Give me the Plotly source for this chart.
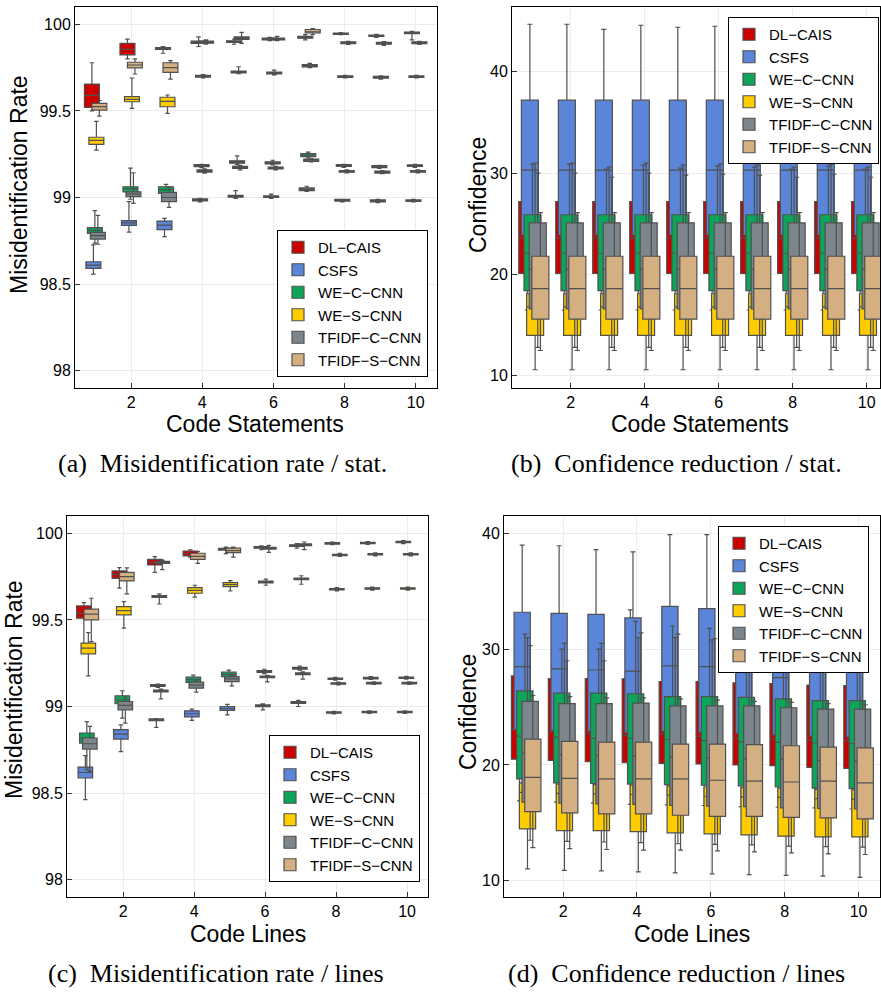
import plotly.graph_objects as go

X = [1, 2, 3, 4, 5, 6, 7, 8, 9, 10]
SERIES = ["DL\u2212CAIS", "CSFS", "WE\u2212C\u2212CNN", "WE\u2212S\u2212CNN", "TFIDF\u2212C\u2212CNN", "TFIDF\u2212S\u2212CNN"]
COLORS = ["#CD0000", "#5B85D8", "#0DA55A", "#FFCC00", "#7D868C", "#D4AF82"]

# ---------------- Panel (a): misidentification rate / statements ----------------
a_dl_lo  = [99.50, 99.80, 99.833, 99.872, 99.885, 99.905, 99.91, 99.94, 99.925, 99.91]
a_dl_q1  = [99.52, 99.823, 99.855, 99.89, 99.895, 99.91, 99.92, 99.942, 99.93, 99.946]
a_dl_med = [99.59, 99.855, 99.86, 99.897, 99.90, 99.915, 99.925, 99.946, 99.934, 99.951]
a_dl_q3  = [99.655, 99.89, 99.865, 99.903, 99.905, 99.92, 99.93, 99.95, 99.938, 99.955]
a_dl_hi  = [99.778, 99.915, 99.871, 99.928, 99.915, 99.925, 99.94, 99.952, 99.942, 99.96]

a_cs_lo  = [98.558, 98.80, 98.774, 98.975, 98.995, 98.995, 99.035, 98.975, 98.97, 98.975]
a_cs_q1  = [98.591, 98.839, 98.814, 98.98, 99.002, 99.0, 99.04, 98.979, 98.974, 98.978]
a_cs_med = [98.61, 98.853, 98.84, 98.986, 99.007, 99.005, 99.047, 98.984, 98.98, 98.982]
a_cs_q3  = [98.629, 98.866, 98.864, 98.992, 99.012, 99.01, 99.055, 98.989, 98.986, 98.986]
a_cs_hi  = [98.726, 98.976, 98.88, 98.995, 99.04, 99.02, 99.065, 98.99, 98.99, 98.99]

a_wc_lo  = [98.736, 98.99, 98.99, 99.172, 99.19, 99.188, 99.228, 99.174, 99.168, 99.174]
a_wc_q1  = [98.793, 99.033, 99.024, 99.178, 99.198, 99.194, 99.236, 99.179, 99.172, 99.179]
a_wc_med = [98.81, 99.05, 99.045, 99.184, 99.205, 99.20, 99.245, 99.184, 99.178, 99.184]
a_wc_q3  = [98.826, 99.062, 99.062, 99.19, 99.212, 99.206, 99.254, 99.19, 99.184, 99.189]
a_wc_hi  = [98.924, 99.17, 99.076, 99.192, 99.24, 99.215, 99.262, 99.192, 99.186, 99.192]

a_ws_lo  = [99.274, 99.515, 99.486, 99.69, 99.715, 99.708, 99.75, 99.69, 99.684, 99.69]
a_ws_q1  = [99.307, 99.553, 99.524, 99.695, 99.72, 99.714, 99.754, 99.694, 99.689, 99.694]
a_ws_med = [99.33, 99.567, 99.555, 99.70, 99.725, 99.719, 99.761, 99.698, 99.694, 99.698]
a_ws_q3  = [99.348, 99.582, 99.579, 99.705, 99.73, 99.724, 99.768, 99.703, 99.699, 99.702]
a_ws_hi  = [99.44, 99.69, 99.592, 99.71, 99.755, 99.735, 99.775, 99.705, 99.703, 99.705]

a_tc_lo  = [98.73, 98.966, 98.943, 99.14, 99.16, 99.16, 99.205, 99.142, 99.137, 99.142]
a_tc_q1  = [98.76, 99.005, 98.976, 99.147, 99.168, 99.165, 99.208, 99.146, 99.141, 99.146]
a_tc_med = [98.78, 99.02, 99.0, 99.153, 99.174, 99.17, 99.215, 99.151, 99.147, 99.151]
a_tc_q3  = [98.799, 99.033, 99.03, 99.159, 99.18, 99.175, 99.222, 99.156, 99.153, 99.156]
a_tc_hi  = [98.897, 99.143, 99.06, 99.165, 99.185, 99.18, 99.225, 99.16, 99.156, 99.16]

a_ts_lo  = [99.47, 99.713, 99.684, 99.885, 99.89, 99.905, 99.94, 99.884, 99.878, 99.884]
a_ts_q1  = [99.505, 99.749, 99.723, 99.891, 99.913, 99.91, 99.95, 99.889, 99.885, 99.889]
a_ts_med = [99.525, 99.765, 99.75, 99.897, 99.92, 99.915, 99.957, 99.894, 99.89, 99.894]
a_ts_q3  = [99.544, 99.781, 99.778, 99.903, 99.927, 99.92, 99.97, 99.899, 99.896, 99.899]
a_ts_hi  = [99.56, 99.80, 99.79, 99.91, 99.954, 99.93, 99.975, 99.902, 99.9, 99.902]

# ---------------- Panel (b): confidence reduction / statements ----------------
b_dl_lo  = [16.5, 16.5, 16.5, 16.5, 16.5, 16.5, 16.5, 16.5, 16.5, 16.5]
b_dl_q1  = [20.1, 20.1, 20.1, 20.1, 20.1, 20.1, 20.1, 20.1, 20.1, 20.1]
b_dl_med = [23.6, 23.6, 23.6, 23.6, 23.6, 23.6, 23.6, 23.6, 23.6, 23.6]
b_dl_q3  = [27.2, 27.2, 27.2, 27.2, 27.2, 27.2, 27.2, 27.2, 27.2, 27.2]
b_dl_hi  = [32.0, 32.0, 31.5, 31.9, 31.7, 31.8, 31.7, 31.6, 31.7, 31.6]

b_cs_lo  = [17.0, 17.0, 17.0, 17.0, 17.0, 17.0, 17.0, 17.0, 17.0, 17.0]
b_cs_q1  = [23.9, 23.9, 23.9, 23.9, 23.9, 23.9, 23.9, 23.9, 23.9, 23.9]
b_cs_med = [30.3, 30.3, 30.3, 30.3, 30.3, 30.3, 30.3, 30.3, 30.3, 30.3]
b_cs_q3  = [37.2, 37.2, 37.2, 37.2, 37.2, 37.2, 37.2, 37.2, 37.2, 37.2]
b_cs_hi  = [44.7, 44.7, 44.2, 44.6, 44.4, 44.5, 44.5, 44.5, 44.5, 44.5]

b_wc_lo  = [14.3, 14.3, 14.3, 14.3, 14.3, 14.3, 14.3, 14.3, 14.3, 14.3]
b_wc_q1  = [18.4, 18.4, 18.4, 18.4, 18.4, 18.4, 18.4, 18.4, 18.4, 18.4]
b_wc_med = [22.1, 22.1, 22.1, 22.1, 22.1, 22.1, 22.1, 22.1, 22.1, 22.1]
b_wc_q3  = [25.9, 25.9, 25.9, 25.9, 25.9, 25.9, 25.9, 25.9, 25.9, 25.9]
b_wc_hi  = [30.9, 30.9, 30.4, 30.8, 30.5, 30.7, 30.6, 30.4, 30.7, 30.4]

b_ws_lo  = [10.6, 10.6, 10.6, 10.6, 10.6, 10.6, 10.6, 10.6, 10.6, 10.6]
b_ws_q1  = [14.0, 14.0, 14.0, 14.0, 14.0, 14.0, 14.0, 14.0, 14.0, 14.0]
b_ws_med = [16.8, 16.8, 16.8, 16.8, 16.8, 16.8, 16.8, 16.8, 16.8, 16.8]
b_ws_q3  = [18.1, 18.1, 18.1, 18.1, 18.1, 18.1, 18.1, 18.1, 18.1, 18.1]
b_ws_hi  = [31.0, 31.0, 30.6, 31.0, 30.8, 30.9, 30.8, 30.6, 30.9, 30.6]

b_tc_lo  = [12.8, 12.8, 12.8, 12.8, 12.8, 12.8, 12.8, 12.8, 12.8, 12.8]
b_tc_q1  = [16.6, 16.6, 16.6, 16.6, 16.6, 16.6, 16.6, 16.6, 16.6, 16.6]
b_tc_med = [20.5, 20.5, 20.5, 20.5, 20.5, 20.5, 20.5, 20.5, 20.5, 20.5]
b_tc_q3  = [25.1, 25.1, 25.1, 25.1, 25.1, 25.1, 25.1, 25.1, 25.1, 25.1]
b_tc_hi  = [30.0, 30.0, 29.6, 30.0, 29.8, 29.9, 29.8, 29.6, 29.9, 29.6]

b_ts_lo  = [12.5, 12.5, 12.5, 12.5, 12.5, 12.5, 12.5, 12.5, 12.5, 12.5]
b_ts_q1  = [15.6, 15.6, 15.6, 15.6, 15.6, 15.6, 15.6, 15.6, 15.6, 15.6]
b_ts_med = [18.6, 18.6, 18.6, 18.6, 18.6, 18.6, 18.6, 18.6, 18.6, 18.6]
b_ts_q3  = [21.8, 21.8, 21.8, 21.8, 21.8, 21.8, 21.8, 21.8, 21.8, 21.8]
b_ts_hi  = [26.1, 26.1, 26.1, 26.1, 26.1, 26.1, 26.1, 26.1, 26.1, 26.1]

# ---------------- Panel (c): misidentification rate / lines ----------------
c_dl_lo  = [99.337, 99.683, 99.775, 99.862, 99.883, 99.905, 99.915, 99.935, 99.936, 99.94]
c_dl_q1  = [99.51, 99.74, 99.817, 99.869, 99.903, 99.914, 99.924, 99.938, 99.94, 99.946]
c_dl_med = [99.539, 99.763, 99.834, 99.883, 99.908, 99.919, 99.929, 99.942, 99.944, 99.95]
c_dl_q3  = [99.581, 99.783, 99.85, 99.898, 99.913, 99.923, 99.934, 99.946, 99.948, 99.954]
c_dl_hi  = [99.60, 99.802, 99.865, 99.905, 99.92, 99.928, 99.94, 99.95, 99.952, 99.958]

c_cs_lo  = [98.462, 98.74, 98.879, 98.92, 98.952, 98.98, 99.0, 98.957, 98.96, 98.96]
c_cs_q1  = [98.587, 98.812, 98.918, 98.94, 98.977, 98.999, 99.018, 98.961, 98.964, 98.964]
c_cs_med = [98.619, 98.84, 98.923, 98.958, 98.988, 99.004, 99.023, 98.965, 98.968, 98.968]
c_cs_q3  = [98.65, 98.866, 98.928, 98.975, 99.0, 99.009, 99.028, 98.969, 98.972, 98.972]
c_cs_hi  = [98.716, 98.894, 98.93, 98.985, 99.012, 99.015, 99.035, 98.972, 98.975, 98.975]

c_wc_lo  = [98.635, 98.933, 99.11, 99.13, 99.165, 99.19, 99.21, 99.152, 99.156, 99.158]
c_wc_q1  = [98.789, 99.016, 99.116, 99.139, 99.173, 99.197, 99.216, 99.156, 99.16, 99.162]
c_wc_med = [98.818, 99.039, 99.121, 99.155, 99.186, 99.202, 99.221, 99.16, 99.164, 99.166]
c_wc_q3  = [98.847, 99.062, 99.126, 99.17, 99.198, 99.207, 99.226, 99.164, 99.168, 99.17]
c_wc_hi  = [98.913, 99.091, 99.13, 99.181, 99.21, 99.215, 99.234, 99.168, 99.172, 99.174]

c_ws_lo  = [99.177, 99.452, 99.592, 99.631, 99.667, 99.70, 99.706, 99.668, 99.672, 99.672]
c_ws_q1  = [99.304, 99.529, 99.63, 99.654, 99.692, 99.714, 99.732, 99.673, 99.677, 99.677]
c_ws_med = [99.337, 99.554, 99.635, 99.67, 99.704, 99.719, 99.737, 99.677, 99.681, 99.681]
c_ws_q3  = [99.366, 99.577, 99.64, 99.686, 99.715, 99.724, 99.742, 99.681, 99.685, 99.685]
c_ws_hi  = [99.427, 99.606, 99.65, 99.70, 99.727, 99.735, 99.755, 99.686, 99.69, 99.69]

c_tc_lo  = [98.625, 98.904, 99.044, 99.083, 99.119, 99.142, 99.158, 99.125, 99.127, 99.127]
c_tc_q1  = [98.754, 98.981, 99.085, 99.106, 99.144, 99.166, 99.184, 99.129, 99.131, 99.131]
c_tc_med = [98.785, 99.006, 99.09, 99.124, 99.159, 99.171, 99.189, 99.133, 99.135, 99.135]
c_tc_q3  = [98.818, 99.029, 99.095, 99.141, 99.173, 99.176, 99.194, 99.137, 99.139, 99.139]
c_tc_hi  = [98.885, 99.054, 99.10, 99.15, 99.18, 99.18, 99.2, 99.141, 99.143, 99.143]

c_ts_lo  = [99.375, 99.65, 99.79, 99.827, 99.862, 99.89, 99.906, 99.866, 99.87, 99.87]
c_ts_q1  = [99.50, 99.725, 99.826, 99.85, 99.888, 99.909, 99.929, 99.871, 99.875, 99.875]
c_ts_med = [99.533, 99.75, 99.832, 99.867, 99.90, 99.914, 99.934, 99.875, 99.879, 99.879]
c_ts_q3  = [99.562, 99.775, 99.838, 99.885, 99.914, 99.919, 99.939, 99.879, 99.883, 99.883]
c_ts_hi  = [99.625, 99.80, 99.845, 99.895, 99.92, 99.93, 99.95, 99.884, 99.887, 99.887]

# ---------------- Panel (d): confidence reduction / lines ----------------
d_dl_lo  = [16.9, 16.8, 16.7, 16.6, 16.55, 16.5, 16.4, 16.35, 16.3, 16.2]
d_dl_q1  = [20.5, 20.4, 20.28, 20.2, 20.14, 20.09, 20.0, 19.94, 19.8, 19.7]
d_dl_med = [23.05, 22.9, 22.7, 22.55, 22.7, 22.47, 22.33, 22.25, 22.15, 22.1]
d_dl_q3  = [27.7, 27.47, 27.47, 27.44, 27.2, 27.2, 27.1, 27.03, 26.9, 26.86]
d_dl_hi  = [32.3, 31.0, 31.0, 33.4, 32.0, 31.8, 31.5, 31.3, 31.2, 31.0]

d_cs_lo  = [17.5, 17.4, 17.3, 17.2, 17.3, 17.2, 17.1, 17.0, 16.9, 16.8]
d_cs_q1  = [23.05, 23.0, 22.9, 22.8, 22.9, 22.8, 22.7, 22.6, 22.5, 22.4]
d_cs_med = [28.5, 28.3, 28.2, 28.1, 28.56, 28.5, 28.3, 27.55, 28.0, 28.0]
d_cs_q3  = [33.19, 33.1, 33.0, 32.7, 33.7, 33.5, 33.2, 33.0, 32.8, 32.6]
d_cs_hi  = [38.99, 38.93, 38.6, 38.4, 39.9, 39.9, 39.2, 38.8, 38.5, 38.3]

d_wc_lo  = [15.0, 14.9, 14.8, 14.75, 14.7, 14.6, 14.55, 14.5, 14.45, 14.4]
d_wc_q1  = [18.8, 18.45, 18.4, 18.35, 18.3, 18.25, 18.2, 18.1, 18.0, 17.95]
d_wc_med = [22.5, 22.4, 22.3, 22.3, 22.2, 22.1, 22.0, 21.95, 21.9, 21.85]
d_wc_q3  = [26.4, 26.2, 26.2, 26.15, 25.9, 25.9, 25.83, 25.7, 25.55, 25.55]
d_wc_hi  = [31.3, 30.0, 30.0, 32.4, 32.0, 31.8, 31.5, 31.3, 31.1, 31.0]

d_ws_lo  = [11.03, 10.9, 10.86, 10.77, 10.69, 10.6, 10.54, 10.46, 10.4, 10.3]
d_ws_q1  = [14.48, 14.34, 14.34, 14.25, 14.14, 14.05, 13.97, 13.85, 13.79, 13.79]
d_ws_med = [17.64, 17.55, 17.5, 17.45, 17.4, 17.3, 17.25, 17.2, 17.1, 17.05]
d_ws_q3  = [18.45, 18.35, 18.3, 18.25, 18.2, 18.1, 18.05, 18.0, 17.9, 17.85]
d_ws_hi  = [31.0, 30.5, 30.5, 31.0, 31.0, 30.8, 30.5, 30.3, 30.2, 30.0]

d_tc_lo  = [13.5, 13.4, 13.35, 13.3, 13.2, 13.15, 13.1, 13.0, 12.95, 12.9]
d_tc_q1  = [16.8, 16.7, 16.65, 16.6, 16.5, 16.45, 16.4, 16.3, 16.25, 16.2]
d_tc_med = [21.0, 20.9, 20.85, 20.8, 20.7, 20.6, 20.55, 20.5, 20.4, 20.35]
d_tc_q3  = [25.5, 25.3, 25.3, 25.35, 25.1, 25.1, 25.1, 24.94, 24.83, 24.83]
d_tc_hi  = [30.3, 29.0, 29.0, 31.4, 31.3, 30.9, 29.5, 28.9, 28.9, 28.7]

d_ts_lo  = [12.87, 12.78, 12.7, 12.64, 12.64, 12.59, 12.5, 12.41, 12.33, 12.27]
d_ts_q1  = [15.97, 15.86, 15.77, 15.77, 15.66, 15.57, 15.57, 15.48, 15.43, 15.34]
d_ts_med = [18.93, 18.85, 18.8, 18.8, 18.8, 18.68, 18.6, 18.53, 18.6, 18.45]
d_ts_q3  = [22.24, 22.04, 21.98, 21.98, 21.8, 21.8, 21.75, 21.66, 21.55, 21.47]
d_ts_hi  = [26.0, 25.9, 25.8, 25.8, 25.7, 25.6, 25.5, 25.4, 25.3, 25.2]

PANELS = {
    "a": [(a_dl_lo, a_dl_q1, a_dl_med, a_dl_q3, a_dl_hi), (a_cs_lo, a_cs_q1, a_cs_med, a_cs_q3, a_cs_hi),
          (a_wc_lo, a_wc_q1, a_wc_med, a_wc_q3, a_wc_hi), (a_ws_lo, a_ws_q1, a_ws_med, a_ws_q3, a_ws_hi),
          (a_tc_lo, a_tc_q1, a_tc_med, a_tc_q3, a_tc_hi), (a_ts_lo, a_ts_q1, a_ts_med, a_ts_q3, a_ts_hi)],
    "b": [(b_dl_lo, b_dl_q1, b_dl_med, b_dl_q3, b_dl_hi), (b_cs_lo, b_cs_q1, b_cs_med, b_cs_q3, b_cs_hi),
          (b_wc_lo, b_wc_q1, b_wc_med, b_wc_q3, b_wc_hi), (b_ws_lo, b_ws_q1, b_ws_med, b_ws_q3, b_ws_hi),
          (b_tc_lo, b_tc_q1, b_tc_med, b_tc_q3, b_tc_hi), (b_ts_lo, b_ts_q1, b_ts_med, b_ts_q3, b_ts_hi)],
    "c": [(c_dl_lo, c_dl_q1, c_dl_med, c_dl_q3, c_dl_hi), (c_cs_lo, c_cs_q1, c_cs_med, c_cs_q3, c_cs_hi),
          (c_wc_lo, c_wc_q1, c_wc_med, c_wc_q3, c_wc_hi), (c_ws_lo, c_ws_q1, c_ws_med, c_ws_q3, c_ws_hi),
          (c_tc_lo, c_tc_q1, c_tc_med, c_tc_q3, c_tc_hi), (c_ts_lo, c_ts_q1, c_ts_med, c_ts_q3, c_ts_hi)],
    "d": [(d_dl_lo, d_dl_q1, d_dl_med, d_dl_q3, d_dl_hi), (d_cs_lo, d_cs_q1, d_cs_med, d_cs_q3, d_cs_hi),
          (d_wc_lo, d_wc_q1, d_wc_med, d_wc_q3, d_wc_hi), (d_ws_lo, d_ws_q1, d_ws_med, d_ws_q3, d_ws_hi),
          (d_tc_lo, d_tc_q1, d_tc_med, d_tc_q3, d_tc_hi), (d_ts_lo, d_ts_q1, d_ts_med, d_ts_q3, d_ts_hi)],
}

W, H = 881, 992
def px(x):
    return x / W
def py(y):
    return 1 - y / H

# panel layout: (axis suffix, legend name, series spacing, box width)
SPEC = {
    "a": ("", "legend", 0.042, 0.42),
    "b": ("2", "legend2", 0.071, 0.46),
    "c": ("3", "legend3", 0.042, 0.41),
    "d": ("4", "legend4", 0.072, 0.44),
}

fig = go.Figure()
for key, series in PANELS.items():
    sfx, leg, step, bw = SPEC[key]
    for i, (lo, q1, med, q3, hi) in enumerate(series):
        off = (i - 2.5) * step
        fig.add_trace(go.Box(
            x=[v + off for v in X], lowerfence=lo, q1=q1, median=med, q3=q3, upperfence=hi,
            name=SERIES[i], legend=leg, showlegend=True,
            xaxis="x" + sfx, yaxis="y" + sfx,
            fillcolor=COLORS[i], line=dict(color="#505050", width=1.2),
            width=bw, whiskerwidth=0.3, boxpoints=False, hoverinfo="skip",
        ))

FONT = "Liberation Sans, Arial, sans-serif"
def xax(dom, rng, anchor):
    return dict(domain=dom, range=rng, anchor=anchor, tickvals=[2, 4, 6, 8, 10],
                showline=True, linecolor="black", linewidth=1, mirror=True,
                ticks="inside", ticklen=5, tickcolor="#333333", showgrid=True,
                gridcolor="#ececec", zeroline=False,
                tickfont=dict(family=FONT, size=16, color="black"))
def yax(dom, rng, anchor, tv, tt):
    return dict(domain=dom, range=rng, anchor=anchor, tickvals=tv, ticktext=tt,
                showline=True, linecolor="black", linewidth=1, mirror=True,
                ticks="inside", ticklen=5, tickcolor="#333333", showgrid=True,
                gridcolor="#ececec", zeroline=False,
                tickfont=dict(family=FONT, size=16, color="black"))

RATE_T = [98, 98.5, 99, 99.5, 100]
RATE_L = ["98", "98.5", "99", "99.5", "100"]
CONF_T = [10, 20, 30, 40]
CONF_L = ["10", "20", "30", "40"]

top_dom = [py(388), py(7)]
bot_dom = [py(897), py(516)]

def legend(x, y, xa, ya):
    return dict(x=x, y=y, xanchor=xa, yanchor=ya, bgcolor="white", bordercolor="black",
                borderwidth=1, font=dict(family=FONT, size=15, color="black"),
                tracegroupgap=0, itemwidth=30, itemclick=False)

fig.update_layout(
    width=W, height=H, margin=dict(l=0, r=0, t=0, b=0),
    paper_bgcolor="white", plot_bgcolor="white", boxmode="overlay", showlegend=True,
    xaxis=xax([px(75), px(437)], [0.42, 10.6], "y"),
    yaxis=yax(top_dom, [97.9, 100.1], "x", RATE_T, RATE_L),
    xaxis2=xax([px(512), px(880)], [0.41, 10.36], "y2"),
    yaxis2=yax(top_dom, [8.8, 46.4], "x2", CONF_T, CONF_L),
    xaxis3=xax([px(67), px(428)], [0.42, 10.59], "y3"),
    yaxis3=yax(bot_dom, [97.9, 100.1], "x3", RATE_T, RATE_L),
    xaxis4=xax([px(504), px(880)], [0.40, 10.58], "y4"),
    yaxis4=yax(bot_dom, [8.6, 41.5], "x4", CONF_T, CONF_L),
    legend=legend(px(428), py(377), "right", "bottom"),
    legend2=legend(px(879), py(17), "right", "top"),
    legend3=legend(px(420), py(882), "right", "bottom"),
    legend4=legend(px(869), py(526), "right", "top"),
)

ann = []
def text(x, y, s, size, family=FONT, angle=0):
    ann.append(dict(x=px(x), y=py(y), xref="paper", yref="paper", text=s, showarrow=False,
                    textangle=angle, xanchor="center", yanchor="middle",
                    font=dict(family=family, size=size, color="black")))

text(255, 424, "Code Statements", 23)
text(700, 424, "Code Statements", 23)
text(248, 934, "Code Lines", 23)
text(692, 934, "Code Lines", 23)
text(19, 185, "Misidentification Rate", 23, angle=-90)
text(478, 195, "Confidence", 23, angle=-90)
text(14, 690, "Misidentification Rate", 23, angle=-90)
text(468, 712, "Confidence", 23, angle=-90)

SERIF = "Liberation Serif, Times New Roman, serif"
text(222, 463, "(a)\u2002Misidentification rate / stat.", 26, SERIF)
text(676, 463, "(b)\u2002Confidence reduction / stat.", 26, SERIF)
text(216, 973, "(c)\u2002Misidentification rate / lines", 26, SERIF)
text(676, 973, "(d)\u2002Confidence reduction / lines", 26, SERIF)

fig.update_layout(annotations=ann)
fig.write_html("out.html")
